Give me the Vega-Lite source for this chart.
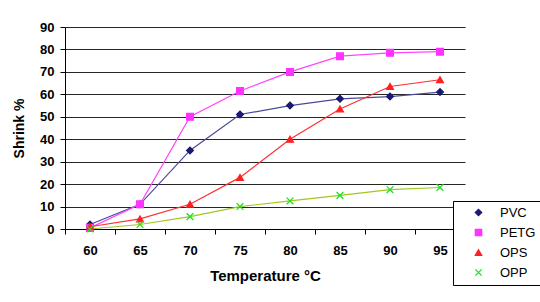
{
  "$schema": "https://vega.github.io/schema/vega-lite/v6.json",
  "width": 400,
  "height": 202,
  "autosize": {"type": "none"},
  "padding": {"left": 65, "top": 27, "right": 75, "bottom": 73},
  "background": "white",
  "config": {
    "font": "Liberation Sans",
    "view": {"stroke": null},
    "axis": {"labelFont": "Liberation Sans", "titleFont": "Liberation Sans", "labelColor": "black", "titleColor": "black", "domainColor": "black", "tickColor": "black"},
    "legend": {
      "orient": "none", "legendX": 388, "legendY": 174, "title": null,
      "strokeColor": "black", "fillColor": "white", "padding": 5,
      "symbolSize": 40, "symbolOffset": 14, "labelOffset": 15, "symbolStrokeWidth": 1.3,
      "labelFontSize": 13, "labelFont": "Liberation Sans", "labelColor": "black",
      "rowPadding": 6
    }
  },
  "data": {
    "values": [
      {"T": 60, "s": "PVC", "v": 2}, {"T": 65, "s": "PVC", "v": 11}, {"T": 70, "s": "PVC", "v": 35}, {"T": 75, "s": "PVC", "v": 51},
      {"T": 80, "s": "PVC", "v": 55}, {"T": 85, "s": "PVC", "v": 58}, {"T": 90, "s": "PVC", "v": 59}, {"T": 95, "s": "PVC", "v": 61},
      {"T": 60, "s": "PETG", "v": 0.5}, {"T": 65, "s": "PETG", "v": 11}, {"T": 70, "s": "PETG", "v": 50}, {"T": 75, "s": "PETG", "v": 61.5},
      {"T": 80, "s": "PETG", "v": 70}, {"T": 85, "s": "PETG", "v": 77}, {"T": 90, "s": "PETG", "v": 78.5}, {"T": 95, "s": "PETG", "v": 79},
      {"T": 60, "s": "OPS", "v": 1}, {"T": 65, "s": "OPS", "v": 4.5}, {"T": 70, "s": "OPS", "v": 11}, {"T": 75, "s": "OPS", "v": 23},
      {"T": 80, "s": "OPS", "v": 40}, {"T": 85, "s": "OPS", "v": 53.5}, {"T": 90, "s": "OPS", "v": 63.5}, {"T": 95, "s": "OPS", "v": 66.5},
      {"T": 60, "s": "OPP", "v": 0}, {"T": 65, "s": "OPP", "v": 2}, {"T": 70, "s": "OPP", "v": 5.5}, {"T": 75, "s": "OPP", "v": 10},
      {"T": 80, "s": "OPP", "v": 12.5}, {"T": 85, "s": "OPP", "v": 15}, {"T": 90, "s": "OPP", "v": 17.5}, {"T": 95, "s": "OPP", "v": 18.5}
    ]
  },
  "encoding": {
    "x": {
      "field": "T", "type": "ordinal", "bandPosition": 0.5,
      "scale": {"type": "band", "paddingInner": 0, "paddingOuter": 0},
      "axis": {
        "title": "Temperature °C", "labelAngle": 0, "grid": false, "tickBand": "extent",
        "tickSize": 5, "labelPadding": 10, "labelFontSize": 13, "labelFontWeight": "bold",
        "titleFontSize": 15, "titleFontWeight": "bold", "titlePadding": 11
      }
    },
    "y": {
      "field": "v", "type": "quantitative",
      "scale": {"domain": [0, 90], "nice": false},
      "axis": {
        "title": "Shrink %", "values": [0, 10, 20, 30, 40, 50, 60, 70, 80, 90],
        "grid": true, "gridColor": "black", "gridOpacity": 0.85, "gridWidth": 1,
        "tickSize": 5, "labelPadding": 6, "labelFontSize": 13, "labelFontWeight": "bold",
        "titleFontSize": 14, "titleFontWeight": "bold", "titlePadding": 13
      }
    }
  },
  "layer": [
    {
      "mark": {"type": "line", "strokeWidth": 1.2},
      "encoding": {
        "color": {
          "field": "s", "type": "nominal",
          "scale": {"range": ["#a0c820", "#ff3030", "#ff44ff", "#4a4a9a"]},
          "legend": null
        }
      }
    },
    {
      "mark": {"type": "point", "filled": true, "size": 45, "strokeWidth": 1.3, "opacity": 1},
      "encoding": {
        "fill": {
          "field": "s", "type": "nominal",
          "scale": {"domain": ["PVC", "PETG", "OPS", "OPP"], "range": ["#1a1a70", "#ff33ff", "#ff2020", "#20e020"]}
        },
        "stroke": {
          "field": "s", "type": "nominal",
          "scale": {"domain": ["PVC", "PETG", "OPS", "OPP"], "range": ["#1a1a70", "#ff33ff", "#ff2020", "#20e020"]}
        },
        "shape": {
          "field": "s", "type": "nominal",
          "scale": {"domain": ["PVC", "PETG", "OPS", "OPP"], "range": ["diamond", "square", "triangle-up", "M-1,-1L1,1M-1,1L1,-1"]}
        }
      }
    }
  ]
}
